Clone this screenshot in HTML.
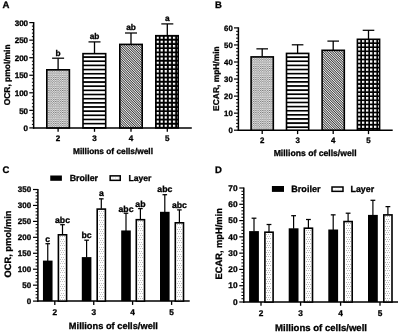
<!DOCTYPE html>
<html><head><meta charset="utf-8"><title>Figure</title>
<style>
html,body{margin:0;padding:0;background:#fff;}
body{width:400px;height:334px;overflow:hidden;}
svg{display:block;}
svg{will-change:transform;}
svg text{font-family:"Liberation Sans", sans-serif;font-weight:bold;fill:#000;stroke:#000;stroke-width:0.3px;text-rendering:geometricPrecision;}
</style></head><body>
<svg width="400" height="334" viewBox="0 0 400 334">
<rect width="400" height="334" fill="#fff"/>
<defs>
<pattern id="pfine" width="2.3" height="2.2" patternUnits="userSpaceOnUse">
 <rect width="2.3" height="2.2" fill="#e5e5e5"/>
 <rect x="0" y="0" width="1.2" height="0.6" fill="#505050"/>
 <rect x="1.15" y="1.1" width="1.2" height="0.6" fill="#505050"/>
</pattern>
<pattern id="pdiag" width="1.7" height="1.7" patternUnits="userSpaceOnUse" patternTransform="rotate(45)">
 <rect width="1.7" height="1.7" fill="#f4f4f4"/>
 <rect x="0" y="0" width="1.7" height="0.76" fill="#202020"/>
</pattern>
<pattern id="pgridA" width="4.1" height="4.2" patternUnits="userSpaceOnUse" patternTransform="translate(156.45 36.5)">
 <rect width="4.1" height="4.2" fill="#000"/>
 <rect x="0" y="0" width="2.3" height="2.3" fill="#fff"/>
</pattern>
<pattern id="pgridB" width="4.02" height="4.08" patternUnits="userSpaceOnUse" patternTransform="translate(357.95 39.95)">
 <rect width="4.02" height="4.08" fill="#000"/>
 <rect x="0" y="0" width="2.3" height="2.3" fill="#fff"/>
</pattern>
<pattern id="player" width="2.7" height="4.6" patternUnits="userSpaceOnUse">
 <rect width="2.7" height="4.6" fill="#fff"/>
 <rect x="0.3" y="0.4" width="1.0" height="0.9" fill="#c4c4c4"/>
 <rect x="1.65" y="2.7" width="1.0" height="0.9" fill="#c4c4c4"/>
</pattern>
<pattern id="phsA" width="10" height="4.16" patternUnits="userSpaceOnUse" patternTransform="translate(0 52.07)">
 <rect width="10" height="4.16" fill="#fff"/>
 <rect x="0" y="0" width="10" height="1.7" fill="#000"/>
</pattern>
<pattern id="phsB" width="10" height="4.12" patternUnits="userSpaceOnUse" patternTransform="translate(0 52.19)">
 <rect width="10" height="4.12" fill="#fff"/>
 <rect x="0" y="0" width="10" height="1.7" fill="#000"/>
</pattern>
</defs>
<text x="2.40" y="8.10" font-size="9.6" text-anchor="start">A</text>
<line x1="33.65" y1="22.00" x2="33.65" y2="128.60" stroke="#000" stroke-width="1.5"/>
<line x1="31.90" y1="124.39" x2="33.65" y2="124.39" stroke="#000" stroke-width="1.0"/>
<line x1="31.90" y1="120.88" x2="33.65" y2="120.88" stroke="#000" stroke-width="1.0"/>
<line x1="31.90" y1="117.37" x2="33.65" y2="117.37" stroke="#000" stroke-width="1.0"/>
<line x1="31.90" y1="113.86" x2="33.65" y2="113.86" stroke="#000" stroke-width="1.0"/>
<line x1="31.90" y1="106.84" x2="33.65" y2="106.84" stroke="#000" stroke-width="1.0"/>
<line x1="31.90" y1="103.33" x2="33.65" y2="103.33" stroke="#000" stroke-width="1.0"/>
<line x1="31.90" y1="99.82" x2="33.65" y2="99.82" stroke="#000" stroke-width="1.0"/>
<line x1="31.90" y1="96.31" x2="33.65" y2="96.31" stroke="#000" stroke-width="1.0"/>
<line x1="31.90" y1="89.29" x2="33.65" y2="89.29" stroke="#000" stroke-width="1.0"/>
<line x1="31.90" y1="85.78" x2="33.65" y2="85.78" stroke="#000" stroke-width="1.0"/>
<line x1="31.90" y1="82.27" x2="33.65" y2="82.27" stroke="#000" stroke-width="1.0"/>
<line x1="31.90" y1="78.76" x2="33.65" y2="78.76" stroke="#000" stroke-width="1.0"/>
<line x1="31.90" y1="71.74" x2="33.65" y2="71.74" stroke="#000" stroke-width="1.0"/>
<line x1="31.90" y1="68.23" x2="33.65" y2="68.23" stroke="#000" stroke-width="1.0"/>
<line x1="31.90" y1="64.72" x2="33.65" y2="64.72" stroke="#000" stroke-width="1.0"/>
<line x1="31.90" y1="61.21" x2="33.65" y2="61.21" stroke="#000" stroke-width="1.0"/>
<line x1="31.90" y1="54.19" x2="33.65" y2="54.19" stroke="#000" stroke-width="1.0"/>
<line x1="31.90" y1="50.68" x2="33.65" y2="50.68" stroke="#000" stroke-width="1.0"/>
<line x1="31.90" y1="47.17" x2="33.65" y2="47.17" stroke="#000" stroke-width="1.0"/>
<line x1="31.90" y1="43.66" x2="33.65" y2="43.66" stroke="#000" stroke-width="1.0"/>
<line x1="31.90" y1="36.64" x2="33.65" y2="36.64" stroke="#000" stroke-width="1.0"/>
<line x1="31.90" y1="33.13" x2="33.65" y2="33.13" stroke="#000" stroke-width="1.0"/>
<line x1="31.90" y1="29.62" x2="33.65" y2="29.62" stroke="#000" stroke-width="1.0"/>
<line x1="31.90" y1="26.11" x2="33.65" y2="26.11" stroke="#000" stroke-width="1.0"/>
<line x1="29.30" y1="127.90" x2="33.65" y2="127.90" stroke="#000" stroke-width="1.2"/>
<text x="28.10" y="131.13" font-size="8.05" text-anchor="end">0</text>
<line x1="29.30" y1="110.35" x2="33.65" y2="110.35" stroke="#000" stroke-width="1.2"/>
<text x="28.10" y="113.58" font-size="8.05" text-anchor="end">50</text>
<line x1="29.30" y1="92.80" x2="33.65" y2="92.80" stroke="#000" stroke-width="1.2"/>
<text x="28.10" y="96.03" font-size="8.05" text-anchor="end">100</text>
<line x1="29.30" y1="75.25" x2="33.65" y2="75.25" stroke="#000" stroke-width="1.2"/>
<text x="28.10" y="78.48" font-size="8.05" text-anchor="end">150</text>
<line x1="29.30" y1="57.70" x2="33.65" y2="57.70" stroke="#000" stroke-width="1.2"/>
<text x="28.10" y="60.93" font-size="8.05" text-anchor="end">200</text>
<line x1="29.30" y1="40.15" x2="33.65" y2="40.15" stroke="#000" stroke-width="1.2"/>
<text x="28.10" y="43.38" font-size="8.05" text-anchor="end">250</text>
<line x1="29.30" y1="22.60" x2="33.65" y2="22.60" stroke="#000" stroke-width="1.2"/>
<text x="28.10" y="25.83" font-size="8.05" text-anchor="end">300</text>
<line x1="32.90" y1="127.90" x2="191.80" y2="127.90" stroke="#000" stroke-width="1.5"/>
<line x1="58.10" y1="58.20" x2="58.10" y2="69.50" stroke="#000" stroke-width="1.3"/>
<line x1="52.10" y1="58.20" x2="64.10" y2="58.20" stroke="#000" stroke-width="1.25"/>
<rect x="46.80" y="69.80" width="22.60" height="58.10" fill="url(#pfine)" stroke="#000" stroke-width="1.6"/>
<text x="58.10" y="55.60" font-size="8.3" text-anchor="middle">b</text>
<line x1="58.10" y1="127.90" x2="58.10" y2="131.80" stroke="#000" stroke-width="1.3"/>
<text x="58.10" y="141.00" font-size="8.05" text-anchor="middle">2</text>
<line x1="94.50" y1="41.90" x2="94.50" y2="53.35" stroke="#000" stroke-width="1.3"/>
<line x1="88.50" y1="41.90" x2="100.50" y2="41.90" stroke="#000" stroke-width="1.25"/>
<rect x="83.00" y="53.65" width="22.70" height="74.25" fill="url(#phsA)" stroke="#000" stroke-width="1.6"/>
<text x="94.50" y="39.15" font-size="8.3" text-anchor="middle">ab</text>
<line x1="94.50" y1="127.90" x2="94.50" y2="131.80" stroke="#000" stroke-width="1.3"/>
<text x="94.50" y="141.00" font-size="8.05" text-anchor="middle">3</text>
<line x1="131.00" y1="33.00" x2="131.00" y2="44.10" stroke="#000" stroke-width="1.3"/>
<line x1="125.00" y1="33.00" x2="137.00" y2="33.00" stroke="#000" stroke-width="1.25"/>
<rect x="119.80" y="44.40" width="22.40" height="83.50" fill="url(#pdiag)" stroke="#000" stroke-width="1.6"/>
<text x="131.00" y="29.55" font-size="8.3" text-anchor="middle">ab</text>
<line x1="131.00" y1="127.90" x2="131.00" y2="131.80" stroke="#000" stroke-width="1.3"/>
<text x="131.00" y="141.00" font-size="8.05" text-anchor="middle">4</text>
<line x1="167.30" y1="23.90" x2="167.30" y2="35.40" stroke="#000" stroke-width="1.3"/>
<line x1="161.30" y1="23.90" x2="173.30" y2="23.90" stroke="#000" stroke-width="1.25"/>
<rect x="155.80" y="35.70" width="22.40" height="92.20" fill="url(#pgridA)" stroke="#000" stroke-width="1.6"/>
<text x="167.30" y="21.15" font-size="8.3" text-anchor="middle">a</text>
<line x1="167.30" y1="127.90" x2="167.30" y2="131.80" stroke="#000" stroke-width="1.3"/>
<text x="167.30" y="141.00" font-size="8.05" text-anchor="middle">5</text>
<text x="113.00" y="154.30" font-size="8.32" text-anchor="middle">Millions of cells/well</text>
<text x="10.20" y="74.85" font-size="8.45" text-anchor="middle" transform="rotate(-90 10.20 74.85)">OCR, pmol/min</text>
<text x="214.90" y="8.00" font-size="9.5" text-anchor="start">B</text>
<line x1="238.40" y1="27.30" x2="238.40" y2="130.90" stroke="#000" stroke-width="1.5"/>
<line x1="236.10" y1="126.79" x2="238.40" y2="126.79" stroke="#000" stroke-width="1.0"/>
<line x1="236.10" y1="123.38" x2="238.40" y2="123.38" stroke="#000" stroke-width="1.0"/>
<line x1="236.10" y1="119.97" x2="238.40" y2="119.97" stroke="#000" stroke-width="1.0"/>
<line x1="236.10" y1="116.56" x2="238.40" y2="116.56" stroke="#000" stroke-width="1.0"/>
<line x1="236.10" y1="109.74" x2="238.40" y2="109.74" stroke="#000" stroke-width="1.0"/>
<line x1="236.10" y1="106.33" x2="238.40" y2="106.33" stroke="#000" stroke-width="1.0"/>
<line x1="236.10" y1="102.92" x2="238.40" y2="102.92" stroke="#000" stroke-width="1.0"/>
<line x1="236.10" y1="99.51" x2="238.40" y2="99.51" stroke="#000" stroke-width="1.0"/>
<line x1="236.10" y1="92.69" x2="238.40" y2="92.69" stroke="#000" stroke-width="1.0"/>
<line x1="236.10" y1="89.28" x2="238.40" y2="89.28" stroke="#000" stroke-width="1.0"/>
<line x1="236.10" y1="85.87" x2="238.40" y2="85.87" stroke="#000" stroke-width="1.0"/>
<line x1="236.10" y1="82.46" x2="238.40" y2="82.46" stroke="#000" stroke-width="1.0"/>
<line x1="236.10" y1="75.64" x2="238.40" y2="75.64" stroke="#000" stroke-width="1.0"/>
<line x1="236.10" y1="72.23" x2="238.40" y2="72.23" stroke="#000" stroke-width="1.0"/>
<line x1="236.10" y1="68.82" x2="238.40" y2="68.82" stroke="#000" stroke-width="1.0"/>
<line x1="236.10" y1="65.41" x2="238.40" y2="65.41" stroke="#000" stroke-width="1.0"/>
<line x1="236.10" y1="58.59" x2="238.40" y2="58.59" stroke="#000" stroke-width="1.0"/>
<line x1="236.10" y1="55.18" x2="238.40" y2="55.18" stroke="#000" stroke-width="1.0"/>
<line x1="236.10" y1="51.77" x2="238.40" y2="51.77" stroke="#000" stroke-width="1.0"/>
<line x1="236.10" y1="48.36" x2="238.40" y2="48.36" stroke="#000" stroke-width="1.0"/>
<line x1="236.10" y1="41.54" x2="238.40" y2="41.54" stroke="#000" stroke-width="1.0"/>
<line x1="236.10" y1="38.13" x2="238.40" y2="38.13" stroke="#000" stroke-width="1.0"/>
<line x1="236.10" y1="34.72" x2="238.40" y2="34.72" stroke="#000" stroke-width="1.0"/>
<line x1="236.10" y1="31.31" x2="238.40" y2="31.31" stroke="#000" stroke-width="1.0"/>
<line x1="234.00" y1="130.20" x2="238.40" y2="130.20" stroke="#000" stroke-width="1.2"/>
<text x="232.80" y="133.09" font-size="7.8" text-anchor="end">0</text>
<line x1="234.00" y1="113.15" x2="238.40" y2="113.15" stroke="#000" stroke-width="1.2"/>
<text x="232.80" y="116.04" font-size="7.8" text-anchor="end">10</text>
<line x1="234.00" y1="96.10" x2="238.40" y2="96.10" stroke="#000" stroke-width="1.2"/>
<text x="232.80" y="98.99" font-size="7.8" text-anchor="end">20</text>
<line x1="234.00" y1="79.05" x2="238.40" y2="79.05" stroke="#000" stroke-width="1.2"/>
<text x="232.80" y="81.94" font-size="7.8" text-anchor="end">30</text>
<line x1="234.00" y1="62.00" x2="238.40" y2="62.00" stroke="#000" stroke-width="1.2"/>
<text x="232.80" y="64.89" font-size="7.8" text-anchor="end">40</text>
<line x1="234.00" y1="44.95" x2="238.40" y2="44.95" stroke="#000" stroke-width="1.2"/>
<text x="232.80" y="47.84" font-size="7.8" text-anchor="end">50</text>
<line x1="234.00" y1="27.90" x2="238.40" y2="27.90" stroke="#000" stroke-width="1.2"/>
<text x="232.80" y="30.79" font-size="7.8" text-anchor="end">60</text>
<line x1="237.65" y1="130.20" x2="392.70" y2="130.20" stroke="#000" stroke-width="1.5"/>
<line x1="262.20" y1="48.85" x2="262.20" y2="56.60" stroke="#000" stroke-width="1.3"/>
<line x1="256.40" y1="48.85" x2="268.00" y2="48.85" stroke="#000" stroke-width="1.25"/>
<rect x="251.10" y="56.90" width="22.20" height="73.30" fill="url(#pfine)" stroke="#000" stroke-width="1.6"/>
<line x1="262.20" y1="130.20" x2="262.20" y2="134.10" stroke="#000" stroke-width="1.3"/>
<text x="262.20" y="142.90" font-size="7.9" text-anchor="middle">2</text>
<line x1="297.60" y1="44.80" x2="297.60" y2="53.10" stroke="#000" stroke-width="1.3"/>
<line x1="291.80" y1="44.80" x2="303.40" y2="44.80" stroke="#000" stroke-width="1.25"/>
<rect x="286.50" y="53.40" width="22.20" height="76.80" fill="url(#phsB)" stroke="#000" stroke-width="1.6"/>
<line x1="297.60" y1="130.20" x2="297.60" y2="134.10" stroke="#000" stroke-width="1.3"/>
<text x="297.60" y="142.90" font-size="7.9" text-anchor="middle">3</text>
<line x1="333.20" y1="41.10" x2="333.20" y2="50.00" stroke="#000" stroke-width="1.3"/>
<line x1="327.40" y1="41.10" x2="339.00" y2="41.10" stroke="#000" stroke-width="1.25"/>
<rect x="322.10" y="50.30" width="22.20" height="79.90" fill="url(#pdiag)" stroke="#000" stroke-width="1.6"/>
<line x1="333.20" y1="130.20" x2="333.20" y2="134.10" stroke="#000" stroke-width="1.3"/>
<text x="333.20" y="142.90" font-size="7.9" text-anchor="middle">4</text>
<line x1="368.50" y1="30.30" x2="368.50" y2="39.00" stroke="#000" stroke-width="1.3"/>
<line x1="362.70" y1="30.30" x2="374.30" y2="30.30" stroke="#000" stroke-width="1.25"/>
<rect x="357.40" y="39.30" width="22.20" height="90.90" fill="url(#pgridB)" stroke="#000" stroke-width="1.6"/>
<line x1="368.50" y1="130.20" x2="368.50" y2="134.10" stroke="#000" stroke-width="1.3"/>
<text x="368.50" y="142.90" font-size="7.9" text-anchor="middle">5</text>
<text x="315.10" y="156.10" font-size="8.65" text-anchor="middle">Millions of cells/well</text>
<text x="218.60" y="78.60" font-size="8.43" text-anchor="middle" transform="rotate(-90 218.60 78.60)">ECAR, mpH/min</text>
<text x="2.60" y="173.00" font-size="9.5" text-anchor="start">C</text>
<line x1="37.90" y1="188.90" x2="37.90" y2="301.80" stroke="#000" stroke-width="1.5"/>
<line x1="35.60" y1="297.91" x2="37.90" y2="297.91" stroke="#000" stroke-width="1.0"/>
<line x1="35.60" y1="294.72" x2="37.90" y2="294.72" stroke="#000" stroke-width="1.0"/>
<line x1="35.60" y1="291.53" x2="37.90" y2="291.53" stroke="#000" stroke-width="1.0"/>
<line x1="35.60" y1="288.35" x2="37.90" y2="288.35" stroke="#000" stroke-width="1.0"/>
<line x1="35.60" y1="281.97" x2="37.90" y2="281.97" stroke="#000" stroke-width="1.0"/>
<line x1="35.60" y1="278.78" x2="37.90" y2="278.78" stroke="#000" stroke-width="1.0"/>
<line x1="35.60" y1="275.59" x2="37.90" y2="275.59" stroke="#000" stroke-width="1.0"/>
<line x1="35.60" y1="272.40" x2="37.90" y2="272.40" stroke="#000" stroke-width="1.0"/>
<line x1="35.60" y1="266.03" x2="37.90" y2="266.03" stroke="#000" stroke-width="1.0"/>
<line x1="35.60" y1="262.84" x2="37.90" y2="262.84" stroke="#000" stroke-width="1.0"/>
<line x1="35.60" y1="259.65" x2="37.90" y2="259.65" stroke="#000" stroke-width="1.0"/>
<line x1="35.60" y1="256.46" x2="37.90" y2="256.46" stroke="#000" stroke-width="1.0"/>
<line x1="35.60" y1="250.08" x2="37.90" y2="250.08" stroke="#000" stroke-width="1.0"/>
<line x1="35.60" y1="246.89" x2="37.90" y2="246.89" stroke="#000" stroke-width="1.0"/>
<line x1="35.60" y1="243.71" x2="37.90" y2="243.71" stroke="#000" stroke-width="1.0"/>
<line x1="35.60" y1="240.52" x2="37.90" y2="240.52" stroke="#000" stroke-width="1.0"/>
<line x1="35.60" y1="234.14" x2="37.90" y2="234.14" stroke="#000" stroke-width="1.0"/>
<line x1="35.60" y1="230.95" x2="37.90" y2="230.95" stroke="#000" stroke-width="1.0"/>
<line x1="35.60" y1="227.76" x2="37.90" y2="227.76" stroke="#000" stroke-width="1.0"/>
<line x1="35.60" y1="224.57" x2="37.90" y2="224.57" stroke="#000" stroke-width="1.0"/>
<line x1="35.60" y1="218.20" x2="37.90" y2="218.20" stroke="#000" stroke-width="1.0"/>
<line x1="35.60" y1="215.01" x2="37.90" y2="215.01" stroke="#000" stroke-width="1.0"/>
<line x1="35.60" y1="211.82" x2="37.90" y2="211.82" stroke="#000" stroke-width="1.0"/>
<line x1="35.60" y1="208.63" x2="37.90" y2="208.63" stroke="#000" stroke-width="1.0"/>
<line x1="35.60" y1="202.25" x2="37.90" y2="202.25" stroke="#000" stroke-width="1.0"/>
<line x1="35.60" y1="199.07" x2="37.90" y2="199.07" stroke="#000" stroke-width="1.0"/>
<line x1="35.60" y1="195.88" x2="37.90" y2="195.88" stroke="#000" stroke-width="1.0"/>
<line x1="35.60" y1="192.69" x2="37.90" y2="192.69" stroke="#000" stroke-width="1.0"/>
<line x1="33.00" y1="301.10" x2="37.90" y2="301.10" stroke="#000" stroke-width="1.2"/>
<text x="31.20" y="304.06" font-size="8.0" text-anchor="end">0</text>
<line x1="33.00" y1="285.16" x2="37.90" y2="285.16" stroke="#000" stroke-width="1.2"/>
<text x="31.20" y="288.12" font-size="8.0" text-anchor="end">50</text>
<line x1="33.00" y1="269.21" x2="37.90" y2="269.21" stroke="#000" stroke-width="1.2"/>
<text x="31.20" y="272.18" font-size="8.0" text-anchor="end">100</text>
<line x1="33.00" y1="253.27" x2="37.90" y2="253.27" stroke="#000" stroke-width="1.2"/>
<text x="31.20" y="256.24" font-size="8.0" text-anchor="end">150</text>
<line x1="33.00" y1="237.33" x2="37.90" y2="237.33" stroke="#000" stroke-width="1.2"/>
<text x="31.20" y="240.29" font-size="8.0" text-anchor="end">200</text>
<line x1="33.00" y1="221.39" x2="37.90" y2="221.39" stroke="#000" stroke-width="1.2"/>
<text x="31.20" y="224.35" font-size="8.0" text-anchor="end">250</text>
<line x1="33.00" y1="205.44" x2="37.90" y2="205.44" stroke="#000" stroke-width="1.2"/>
<text x="31.20" y="208.41" font-size="8.0" text-anchor="end">300</text>
<line x1="33.00" y1="189.50" x2="37.90" y2="189.50" stroke="#000" stroke-width="1.2"/>
<text x="31.20" y="192.46" font-size="8.0" text-anchor="end">350</text>
<line x1="37.15" y1="301.10" x2="189.70" y2="301.10" stroke="#000" stroke-width="1.5"/>
<line x1="47.75" y1="243.70" x2="47.75" y2="261.10" stroke="#000" stroke-width="1.2"/>
<line x1="45.45" y1="243.70" x2="50.05" y2="243.70" stroke="#000" stroke-width="1.25"/>
<rect x="42.95" y="260.60" width="9.60" height="40.50" fill="#000"/>
<text x="47.75" y="241.50" font-size="8.7" text-anchor="middle">c</text>
<line x1="62.50" y1="224.70" x2="62.50" y2="234.50" stroke="#000" stroke-width="1.2"/>
<line x1="60.20" y1="224.70" x2="64.80" y2="224.70" stroke="#000" stroke-width="1.25"/>
<rect x="58.40" y="234.80" width="8.20" height="66.30" fill="#fff" stroke="#000" stroke-width="1.6"/>
<path d="M60 236h1v1h-1zM62 236h1v1h-1zM64 236h1v1h-1zM61 239h1v1h-1zM63 239h1v1h-1zM60 241h1v1h-1zM62 241h1v1h-1zM64 241h1v1h-1zM61 243h1v1h-1zM63 243h1v1h-1zM60 245h1v1h-1zM62 245h1v1h-1zM64 245h1v1h-1zM61 248h1v1h-1zM63 248h1v1h-1zM60 250h1v1h-1zM62 250h1v1h-1zM64 250h1v1h-1zM61 252h1v1h-1zM63 252h1v1h-1zM60 254h1v1h-1zM62 254h1v1h-1zM64 254h1v1h-1zM61 257h1v1h-1zM63 257h1v1h-1zM60 259h1v1h-1zM62 259h1v1h-1zM64 259h1v1h-1zM61 261h1v1h-1zM63 261h1v1h-1zM60 263h1v1h-1zM62 263h1v1h-1zM64 263h1v1h-1zM61 266h1v1h-1zM63 266h1v1h-1zM60 268h1v1h-1zM62 268h1v1h-1zM64 268h1v1h-1zM61 270h1v1h-1zM63 270h1v1h-1zM60 272h1v1h-1zM62 272h1v1h-1zM64 272h1v1h-1zM61 275h1v1h-1zM63 275h1v1h-1zM60 277h1v1h-1zM62 277h1v1h-1zM64 277h1v1h-1zM61 279h1v1h-1zM63 279h1v1h-1zM60 281h1v1h-1zM62 281h1v1h-1zM64 281h1v1h-1zM61 284h1v1h-1zM63 284h1v1h-1zM60 286h1v1h-1zM62 286h1v1h-1zM64 286h1v1h-1zM61 288h1v1h-1zM63 288h1v1h-1zM60 290h1v1h-1zM62 290h1v1h-1zM64 290h1v1h-1zM61 293h1v1h-1zM63 293h1v1h-1zM60 295h1v1h-1zM62 295h1v1h-1zM64 295h1v1h-1zM61 297h1v1h-1zM63 297h1v1h-1zM60 299h1v1h-1zM62 299h1v1h-1zM64 299h1v1h-1z" fill="#c0c0c0"/>
<text x="62.50" y="222.80" font-size="8.7" text-anchor="middle">abc</text>
<line x1="54.80" y1="301.10" x2="54.80" y2="304.90" stroke="#000" stroke-width="1.3"/>
<text x="54.80" y="314.80" font-size="8.3" text-anchor="middle">2</text>
<line x1="86.60" y1="240.20" x2="86.60" y2="257.60" stroke="#000" stroke-width="1.2"/>
<line x1="84.30" y1="240.20" x2="88.90" y2="240.20" stroke="#000" stroke-width="1.25"/>
<rect x="81.80" y="257.10" width="9.60" height="44.00" fill="#000"/>
<text x="86.60" y="237.80" font-size="8.7" text-anchor="middle">bc</text>
<line x1="101.30" y1="198.85" x2="101.30" y2="208.80" stroke="#000" stroke-width="1.2"/>
<line x1="99.00" y1="198.85" x2="103.60" y2="198.85" stroke="#000" stroke-width="1.25"/>
<rect x="97.20" y="209.10" width="8.20" height="92.00" fill="#fff" stroke="#000" stroke-width="1.6"/>
<path d="M99 211h1v1h-1zM101 211h1v1h-1zM103 211h1v1h-1zM100 213h1v1h-1zM102 213h1v1h-1zM99 215h1v1h-1zM101 215h1v1h-1zM103 215h1v1h-1zM100 217h1v1h-1zM102 217h1v1h-1zM99 220h1v1h-1zM101 220h1v1h-1zM103 220h1v1h-1zM100 222h1v1h-1zM102 222h1v1h-1zM99 224h1v1h-1zM101 224h1v1h-1zM103 224h1v1h-1zM100 226h1v1h-1zM102 226h1v1h-1zM99 229h1v1h-1zM101 229h1v1h-1zM103 229h1v1h-1zM100 231h1v1h-1zM102 231h1v1h-1zM99 233h1v1h-1zM101 233h1v1h-1zM103 233h1v1h-1zM100 235h1v1h-1zM102 235h1v1h-1zM99 238h1v1h-1zM101 238h1v1h-1zM103 238h1v1h-1zM100 240h1v1h-1zM102 240h1v1h-1zM99 242h1v1h-1zM101 242h1v1h-1zM103 242h1v1h-1zM100 244h1v1h-1zM102 244h1v1h-1zM99 247h1v1h-1zM101 247h1v1h-1zM103 247h1v1h-1zM100 249h1v1h-1zM102 249h1v1h-1zM99 251h1v1h-1zM101 251h1v1h-1zM103 251h1v1h-1zM100 253h1v1h-1zM102 253h1v1h-1zM99 256h1v1h-1zM101 256h1v1h-1zM103 256h1v1h-1zM100 258h1v1h-1zM102 258h1v1h-1zM99 260h1v1h-1zM101 260h1v1h-1zM103 260h1v1h-1zM100 262h1v1h-1zM102 262h1v1h-1zM99 265h1v1h-1zM101 265h1v1h-1zM103 265h1v1h-1zM100 267h1v1h-1zM102 267h1v1h-1zM99 269h1v1h-1zM101 269h1v1h-1zM103 269h1v1h-1zM100 271h1v1h-1zM102 271h1v1h-1zM99 274h1v1h-1zM101 274h1v1h-1zM103 274h1v1h-1zM100 276h1v1h-1zM102 276h1v1h-1zM99 278h1v1h-1zM101 278h1v1h-1zM103 278h1v1h-1zM100 280h1v1h-1zM102 280h1v1h-1zM99 283h1v1h-1zM101 283h1v1h-1zM103 283h1v1h-1zM100 285h1v1h-1zM102 285h1v1h-1zM99 287h1v1h-1zM101 287h1v1h-1zM103 287h1v1h-1zM100 289h1v1h-1zM102 289h1v1h-1zM99 292h1v1h-1zM101 292h1v1h-1zM103 292h1v1h-1zM100 294h1v1h-1zM102 294h1v1h-1zM99 296h1v1h-1zM101 296h1v1h-1zM103 296h1v1h-1zM100 298h1v1h-1zM102 298h1v1h-1z" fill="#c0c0c0"/>
<text x="101.30" y="196.25" font-size="8.7" text-anchor="middle">a</text>
<line x1="93.75" y1="301.10" x2="93.75" y2="304.90" stroke="#000" stroke-width="1.3"/>
<text x="93.75" y="314.80" font-size="8.3" text-anchor="middle">3</text>
<line x1="126.00" y1="213.25" x2="126.00" y2="230.95" stroke="#000" stroke-width="1.2"/>
<line x1="123.70" y1="213.25" x2="128.30" y2="213.25" stroke="#000" stroke-width="1.25"/>
<rect x="121.20" y="230.45" width="9.60" height="70.65" fill="#000"/>
<text x="126.00" y="211.85" font-size="8.7" text-anchor="middle">abc</text>
<line x1="140.40" y1="208.60" x2="140.40" y2="219.40" stroke="#000" stroke-width="1.2"/>
<line x1="138.10" y1="208.60" x2="142.70" y2="208.60" stroke="#000" stroke-width="1.25"/>
<rect x="136.30" y="219.70" width="8.20" height="81.40" fill="#fff" stroke="#000" stroke-width="1.6"/>
<path d="M138 221h1v1h-1zM140 221h1v1h-1zM142 221h1v1h-1zM139 224h1v1h-1zM141 224h1v1h-1zM138 226h1v1h-1zM140 226h1v1h-1zM142 226h1v1h-1zM139 228h1v1h-1zM141 228h1v1h-1zM138 230h1v1h-1zM140 230h1v1h-1zM142 230h1v1h-1zM139 233h1v1h-1zM141 233h1v1h-1zM138 235h1v1h-1zM140 235h1v1h-1zM142 235h1v1h-1zM139 237h1v1h-1zM141 237h1v1h-1zM138 239h1v1h-1zM140 239h1v1h-1zM142 239h1v1h-1zM139 242h1v1h-1zM141 242h1v1h-1zM138 244h1v1h-1zM140 244h1v1h-1zM142 244h1v1h-1zM139 246h1v1h-1zM141 246h1v1h-1zM138 248h1v1h-1zM140 248h1v1h-1zM142 248h1v1h-1zM139 251h1v1h-1zM141 251h1v1h-1zM138 253h1v1h-1zM140 253h1v1h-1zM142 253h1v1h-1zM139 255h1v1h-1zM141 255h1v1h-1zM138 257h1v1h-1zM140 257h1v1h-1zM142 257h1v1h-1zM139 260h1v1h-1zM141 260h1v1h-1zM138 262h1v1h-1zM140 262h1v1h-1zM142 262h1v1h-1zM139 264h1v1h-1zM141 264h1v1h-1zM138 266h1v1h-1zM140 266h1v1h-1zM142 266h1v1h-1zM139 269h1v1h-1zM141 269h1v1h-1zM138 271h1v1h-1zM140 271h1v1h-1zM142 271h1v1h-1zM139 273h1v1h-1zM141 273h1v1h-1zM138 275h1v1h-1zM140 275h1v1h-1zM142 275h1v1h-1zM139 278h1v1h-1zM141 278h1v1h-1zM138 280h1v1h-1zM140 280h1v1h-1zM142 280h1v1h-1zM139 282h1v1h-1zM141 282h1v1h-1zM138 284h1v1h-1zM140 284h1v1h-1zM142 284h1v1h-1zM139 287h1v1h-1zM141 287h1v1h-1zM138 289h1v1h-1zM140 289h1v1h-1zM142 289h1v1h-1zM139 291h1v1h-1zM141 291h1v1h-1zM138 293h1v1h-1zM140 293h1v1h-1zM142 293h1v1h-1zM139 296h1v1h-1zM141 296h1v1h-1zM138 298h1v1h-1zM140 298h1v1h-1zM142 298h1v1h-1z" fill="#c0c0c0"/>
<text x="140.40" y="206.50" font-size="8.7" text-anchor="middle">ab</text>
<line x1="132.60" y1="301.10" x2="132.60" y2="304.90" stroke="#000" stroke-width="1.3"/>
<text x="132.60" y="314.80" font-size="8.3" text-anchor="middle">4</text>
<line x1="164.80" y1="194.70" x2="164.80" y2="212.30" stroke="#000" stroke-width="1.2"/>
<line x1="162.50" y1="194.70" x2="167.10" y2="194.70" stroke="#000" stroke-width="1.25"/>
<rect x="160.00" y="211.80" width="9.60" height="89.30" fill="#000"/>
<text x="164.80" y="192.20" font-size="8.7" text-anchor="middle">abc</text>
<line x1="179.40" y1="209.90" x2="179.40" y2="222.50" stroke="#000" stroke-width="1.2"/>
<line x1="177.10" y1="209.90" x2="181.70" y2="209.90" stroke="#000" stroke-width="1.25"/>
<rect x="175.30" y="222.80" width="8.20" height="78.30" fill="#fff" stroke="#000" stroke-width="1.6"/>
<path d="M177 224h1v1h-1zM179 224h1v1h-1zM181 224h1v1h-1zM178 227h1v1h-1zM180 227h1v1h-1zM177 229h1v1h-1zM179 229h1v1h-1zM181 229h1v1h-1zM178 231h1v1h-1zM180 231h1v1h-1zM177 233h1v1h-1zM179 233h1v1h-1zM181 233h1v1h-1zM178 236h1v1h-1zM180 236h1v1h-1zM177 238h1v1h-1zM179 238h1v1h-1zM181 238h1v1h-1zM178 240h1v1h-1zM180 240h1v1h-1zM177 242h1v1h-1zM179 242h1v1h-1zM181 242h1v1h-1zM178 245h1v1h-1zM180 245h1v1h-1zM177 247h1v1h-1zM179 247h1v1h-1zM181 247h1v1h-1zM178 249h1v1h-1zM180 249h1v1h-1zM177 251h1v1h-1zM179 251h1v1h-1zM181 251h1v1h-1zM178 254h1v1h-1zM180 254h1v1h-1zM177 256h1v1h-1zM179 256h1v1h-1zM181 256h1v1h-1zM178 258h1v1h-1zM180 258h1v1h-1zM177 260h1v1h-1zM179 260h1v1h-1zM181 260h1v1h-1zM178 263h1v1h-1zM180 263h1v1h-1zM177 265h1v1h-1zM179 265h1v1h-1zM181 265h1v1h-1zM178 267h1v1h-1zM180 267h1v1h-1zM177 269h1v1h-1zM179 269h1v1h-1zM181 269h1v1h-1zM178 272h1v1h-1zM180 272h1v1h-1zM177 274h1v1h-1zM179 274h1v1h-1zM181 274h1v1h-1zM178 276h1v1h-1zM180 276h1v1h-1zM177 278h1v1h-1zM179 278h1v1h-1zM181 278h1v1h-1zM178 281h1v1h-1zM180 281h1v1h-1zM177 283h1v1h-1zM179 283h1v1h-1zM181 283h1v1h-1zM178 285h1v1h-1zM180 285h1v1h-1zM177 287h1v1h-1zM179 287h1v1h-1zM181 287h1v1h-1zM178 290h1v1h-1zM180 290h1v1h-1zM177 292h1v1h-1zM179 292h1v1h-1zM181 292h1v1h-1zM178 294h1v1h-1zM180 294h1v1h-1zM177 296h1v1h-1zM179 296h1v1h-1zM181 296h1v1h-1zM178 299h1v1h-1zM180 299h1v1h-1z" fill="#c0c0c0"/>
<text x="179.40" y="207.50" font-size="8.7" text-anchor="middle">abc</text>
<line x1="171.60" y1="301.10" x2="171.60" y2="304.90" stroke="#000" stroke-width="1.3"/>
<text x="171.60" y="314.80" font-size="8.3" text-anchor="middle">5</text>
<text x="113.40" y="329.30" font-size="9.28" text-anchor="middle">Millions of cells/well</text>
<text x="11.40" y="244.00" font-size="9.25" text-anchor="middle" transform="rotate(-90 11.40 244.00)">OCR, pmol/min</text>
<rect x="50.25" y="175.50" width="11.65" height="5.30" fill="#000"/>
<text x="69.70" y="180.90" font-size="8.8" text-anchor="start">Broiler</text>
<rect x="110.15" y="175.85" width="10.10" height="4.50" fill="url(#player)" stroke="#000" stroke-width="1.5"/>
<text x="128.50" y="180.90" font-size="8.6" text-anchor="start">Layer</text>
<text x="215.10" y="173.30" font-size="9.5" text-anchor="start">D</text>
<line x1="243.80" y1="187.40" x2="243.80" y2="302.70" stroke="#000" stroke-width="1.5"/>
<line x1="241.40" y1="298.74" x2="243.80" y2="298.74" stroke="#000" stroke-width="1.0"/>
<line x1="241.40" y1="295.49" x2="243.80" y2="295.49" stroke="#000" stroke-width="1.0"/>
<line x1="241.40" y1="292.23" x2="243.80" y2="292.23" stroke="#000" stroke-width="1.0"/>
<line x1="241.40" y1="288.97" x2="243.80" y2="288.97" stroke="#000" stroke-width="1.0"/>
<line x1="241.40" y1="282.46" x2="243.80" y2="282.46" stroke="#000" stroke-width="1.0"/>
<line x1="241.40" y1="279.20" x2="243.80" y2="279.20" stroke="#000" stroke-width="1.0"/>
<line x1="241.40" y1="275.94" x2="243.80" y2="275.94" stroke="#000" stroke-width="1.0"/>
<line x1="241.40" y1="272.69" x2="243.80" y2="272.69" stroke="#000" stroke-width="1.0"/>
<line x1="241.40" y1="266.17" x2="243.80" y2="266.17" stroke="#000" stroke-width="1.0"/>
<line x1="241.40" y1="262.91" x2="243.80" y2="262.91" stroke="#000" stroke-width="1.0"/>
<line x1="241.40" y1="259.66" x2="243.80" y2="259.66" stroke="#000" stroke-width="1.0"/>
<line x1="241.40" y1="256.40" x2="243.80" y2="256.40" stroke="#000" stroke-width="1.0"/>
<line x1="241.40" y1="249.89" x2="243.80" y2="249.89" stroke="#000" stroke-width="1.0"/>
<line x1="241.40" y1="246.63" x2="243.80" y2="246.63" stroke="#000" stroke-width="1.0"/>
<line x1="241.40" y1="243.37" x2="243.80" y2="243.37" stroke="#000" stroke-width="1.0"/>
<line x1="241.40" y1="240.11" x2="243.80" y2="240.11" stroke="#000" stroke-width="1.0"/>
<line x1="241.40" y1="233.60" x2="243.80" y2="233.60" stroke="#000" stroke-width="1.0"/>
<line x1="241.40" y1="230.34" x2="243.80" y2="230.34" stroke="#000" stroke-width="1.0"/>
<line x1="241.40" y1="227.09" x2="243.80" y2="227.09" stroke="#000" stroke-width="1.0"/>
<line x1="241.40" y1="223.83" x2="243.80" y2="223.83" stroke="#000" stroke-width="1.0"/>
<line x1="241.40" y1="217.31" x2="243.80" y2="217.31" stroke="#000" stroke-width="1.0"/>
<line x1="241.40" y1="214.06" x2="243.80" y2="214.06" stroke="#000" stroke-width="1.0"/>
<line x1="241.40" y1="210.80" x2="243.80" y2="210.80" stroke="#000" stroke-width="1.0"/>
<line x1="241.40" y1="207.54" x2="243.80" y2="207.54" stroke="#000" stroke-width="1.0"/>
<line x1="241.40" y1="201.03" x2="243.80" y2="201.03" stroke="#000" stroke-width="1.0"/>
<line x1="241.40" y1="197.77" x2="243.80" y2="197.77" stroke="#000" stroke-width="1.0"/>
<line x1="241.40" y1="194.51" x2="243.80" y2="194.51" stroke="#000" stroke-width="1.0"/>
<line x1="241.40" y1="191.26" x2="243.80" y2="191.26" stroke="#000" stroke-width="1.0"/>
<line x1="239.25" y1="302.00" x2="243.80" y2="302.00" stroke="#000" stroke-width="1.2"/>
<text x="237.50" y="304.77" font-size="8.3" text-anchor="end">0</text>
<line x1="239.25" y1="285.71" x2="243.80" y2="285.71" stroke="#000" stroke-width="1.2"/>
<text x="237.50" y="288.49" font-size="8.3" text-anchor="end">10</text>
<line x1="239.25" y1="269.43" x2="243.80" y2="269.43" stroke="#000" stroke-width="1.2"/>
<text x="237.50" y="272.20" font-size="8.3" text-anchor="end">20</text>
<line x1="239.25" y1="253.14" x2="243.80" y2="253.14" stroke="#000" stroke-width="1.2"/>
<text x="237.50" y="255.91" font-size="8.3" text-anchor="end">30</text>
<line x1="239.25" y1="236.86" x2="243.80" y2="236.86" stroke="#000" stroke-width="1.2"/>
<text x="237.50" y="239.63" font-size="8.3" text-anchor="end">40</text>
<line x1="239.25" y1="220.57" x2="243.80" y2="220.57" stroke="#000" stroke-width="1.2"/>
<text x="237.50" y="223.34" font-size="8.3" text-anchor="end">50</text>
<line x1="239.25" y1="204.29" x2="243.80" y2="204.29" stroke="#000" stroke-width="1.2"/>
<text x="237.50" y="207.06" font-size="8.3" text-anchor="end">60</text>
<line x1="239.25" y1="188.00" x2="243.80" y2="188.00" stroke="#000" stroke-width="1.2"/>
<text x="237.50" y="190.77" font-size="8.3" text-anchor="end">70</text>
<line x1="243.05" y1="302.00" x2="398.00" y2="302.00" stroke="#000" stroke-width="1.5"/>
<line x1="254.00" y1="218.20" x2="254.00" y2="231.60" stroke="#000" stroke-width="1.2"/>
<line x1="251.60" y1="218.20" x2="256.40" y2="218.20" stroke="#000" stroke-width="1.25"/>
<rect x="249.10" y="231.10" width="9.80" height="70.90" fill="#000"/>
<line x1="269.00" y1="224.50" x2="269.00" y2="231.90" stroke="#000" stroke-width="1.2"/>
<line x1="266.60" y1="224.50" x2="271.40" y2="224.50" stroke="#000" stroke-width="1.25"/>
<rect x="264.90" y="232.20" width="8.20" height="69.80" fill="#fff" stroke="#000" stroke-width="1.6"/>
<path d="M266 234h1v1h-1zM268 234h1v1h-1zM270 234h1v1h-1zM267 236h1v1h-1zM269 236h1v1h-1zM266 238h1v1h-1zM268 238h1v1h-1zM270 238h1v1h-1zM267 241h1v1h-1zM269 241h1v1h-1zM266 243h1v1h-1zM268 243h1v1h-1zM270 243h1v1h-1zM267 245h1v1h-1zM269 245h1v1h-1zM266 247h1v1h-1zM268 247h1v1h-1zM270 247h1v1h-1zM267 250h1v1h-1zM269 250h1v1h-1zM266 252h1v1h-1zM268 252h1v1h-1zM270 252h1v1h-1zM267 254h1v1h-1zM269 254h1v1h-1zM266 256h1v1h-1zM268 256h1v1h-1zM270 256h1v1h-1zM267 259h1v1h-1zM269 259h1v1h-1zM266 261h1v1h-1zM268 261h1v1h-1zM270 261h1v1h-1zM267 263h1v1h-1zM269 263h1v1h-1zM266 265h1v1h-1zM268 265h1v1h-1zM270 265h1v1h-1zM267 268h1v1h-1zM269 268h1v1h-1zM266 270h1v1h-1zM268 270h1v1h-1zM270 270h1v1h-1zM267 272h1v1h-1zM269 272h1v1h-1zM266 274h1v1h-1zM268 274h1v1h-1zM270 274h1v1h-1zM267 277h1v1h-1zM269 277h1v1h-1zM266 279h1v1h-1zM268 279h1v1h-1zM270 279h1v1h-1zM267 281h1v1h-1zM269 281h1v1h-1zM266 283h1v1h-1zM268 283h1v1h-1zM270 283h1v1h-1zM267 286h1v1h-1zM269 286h1v1h-1zM266 288h1v1h-1zM268 288h1v1h-1zM270 288h1v1h-1zM267 290h1v1h-1zM269 290h1v1h-1zM266 292h1v1h-1zM268 292h1v1h-1zM270 292h1v1h-1zM267 295h1v1h-1zM269 295h1v1h-1zM266 297h1v1h-1zM268 297h1v1h-1zM270 297h1v1h-1zM267 299h1v1h-1zM269 299h1v1h-1z" fill="#b8b8b8"/>
<line x1="261.00" y1="302.00" x2="261.00" y2="305.80" stroke="#000" stroke-width="1.3"/>
<text x="261.00" y="315.70" font-size="8.3" text-anchor="middle">2</text>
<line x1="293.60" y1="215.70" x2="293.60" y2="228.80" stroke="#000" stroke-width="1.2"/>
<line x1="291.20" y1="215.70" x2="296.00" y2="215.70" stroke="#000" stroke-width="1.25"/>
<rect x="288.70" y="228.30" width="9.80" height="73.70" fill="#000"/>
<line x1="308.40" y1="219.50" x2="308.40" y2="227.90" stroke="#000" stroke-width="1.2"/>
<line x1="306.00" y1="219.50" x2="310.80" y2="219.50" stroke="#000" stroke-width="1.25"/>
<rect x="304.30" y="228.20" width="8.20" height="73.80" fill="#fff" stroke="#000" stroke-width="1.6"/>
<path d="M306 230h1v1h-1zM308 230h1v1h-1zM310 230h1v1h-1zM307 232h1v1h-1zM309 232h1v1h-1zM306 234h1v1h-1zM308 234h1v1h-1zM310 234h1v1h-1zM307 237h1v1h-1zM309 237h1v1h-1zM306 239h1v1h-1zM308 239h1v1h-1zM310 239h1v1h-1zM307 241h1v1h-1zM309 241h1v1h-1zM306 243h1v1h-1zM308 243h1v1h-1zM310 243h1v1h-1zM307 246h1v1h-1zM309 246h1v1h-1zM306 248h1v1h-1zM308 248h1v1h-1zM310 248h1v1h-1zM307 250h1v1h-1zM309 250h1v1h-1zM306 252h1v1h-1zM308 252h1v1h-1zM310 252h1v1h-1zM307 255h1v1h-1zM309 255h1v1h-1zM306 257h1v1h-1zM308 257h1v1h-1zM310 257h1v1h-1zM307 259h1v1h-1zM309 259h1v1h-1zM306 261h1v1h-1zM308 261h1v1h-1zM310 261h1v1h-1zM307 264h1v1h-1zM309 264h1v1h-1zM306 266h1v1h-1zM308 266h1v1h-1zM310 266h1v1h-1zM307 268h1v1h-1zM309 268h1v1h-1zM306 270h1v1h-1zM308 270h1v1h-1zM310 270h1v1h-1zM307 273h1v1h-1zM309 273h1v1h-1zM306 275h1v1h-1zM308 275h1v1h-1zM310 275h1v1h-1zM307 277h1v1h-1zM309 277h1v1h-1zM306 279h1v1h-1zM308 279h1v1h-1zM310 279h1v1h-1zM307 282h1v1h-1zM309 282h1v1h-1zM306 284h1v1h-1zM308 284h1v1h-1zM310 284h1v1h-1zM307 286h1v1h-1zM309 286h1v1h-1zM306 288h1v1h-1zM308 288h1v1h-1zM310 288h1v1h-1zM307 291h1v1h-1zM309 291h1v1h-1zM306 293h1v1h-1zM308 293h1v1h-1zM310 293h1v1h-1zM307 295h1v1h-1zM309 295h1v1h-1zM306 297h1v1h-1zM308 297h1v1h-1zM310 297h1v1h-1zM307 300h1v1h-1zM309 300h1v1h-1z" fill="#b8b8b8"/>
<line x1="300.60" y1="302.00" x2="300.60" y2="305.80" stroke="#000" stroke-width="1.3"/>
<text x="300.60" y="315.70" font-size="8.3" text-anchor="middle">3</text>
<line x1="333.20" y1="214.85" x2="333.20" y2="230.00" stroke="#000" stroke-width="1.2"/>
<line x1="330.80" y1="214.85" x2="335.60" y2="214.85" stroke="#000" stroke-width="1.25"/>
<rect x="328.30" y="229.50" width="9.80" height="72.50" fill="#000"/>
<line x1="348.10" y1="213.20" x2="348.10" y2="221.25" stroke="#000" stroke-width="1.2"/>
<line x1="345.70" y1="213.20" x2="350.50" y2="213.20" stroke="#000" stroke-width="1.25"/>
<rect x="344.00" y="221.55" width="8.20" height="80.45" fill="#fff" stroke="#000" stroke-width="1.6"/>
<path d="M346 223h1v1h-1zM348 223h1v1h-1zM350 223h1v1h-1zM347 225h1v1h-1zM349 225h1v1h-1zM346 228h1v1h-1zM348 228h1v1h-1zM350 228h1v1h-1zM347 230h1v1h-1zM349 230h1v1h-1zM346 232h1v1h-1zM348 232h1v1h-1zM350 232h1v1h-1zM347 234h1v1h-1zM349 234h1v1h-1zM346 237h1v1h-1zM348 237h1v1h-1zM350 237h1v1h-1zM347 239h1v1h-1zM349 239h1v1h-1zM346 241h1v1h-1zM348 241h1v1h-1zM350 241h1v1h-1zM347 243h1v1h-1zM349 243h1v1h-1zM346 246h1v1h-1zM348 246h1v1h-1zM350 246h1v1h-1zM347 248h1v1h-1zM349 248h1v1h-1zM346 250h1v1h-1zM348 250h1v1h-1zM350 250h1v1h-1zM347 252h1v1h-1zM349 252h1v1h-1zM346 255h1v1h-1zM348 255h1v1h-1zM350 255h1v1h-1zM347 257h1v1h-1zM349 257h1v1h-1zM346 259h1v1h-1zM348 259h1v1h-1zM350 259h1v1h-1zM347 261h1v1h-1zM349 261h1v1h-1zM346 264h1v1h-1zM348 264h1v1h-1zM350 264h1v1h-1zM347 266h1v1h-1zM349 266h1v1h-1zM346 268h1v1h-1zM348 268h1v1h-1zM350 268h1v1h-1zM347 270h1v1h-1zM349 270h1v1h-1zM346 273h1v1h-1zM348 273h1v1h-1zM350 273h1v1h-1zM347 275h1v1h-1zM349 275h1v1h-1zM346 277h1v1h-1zM348 277h1v1h-1zM350 277h1v1h-1zM347 279h1v1h-1zM349 279h1v1h-1zM346 282h1v1h-1zM348 282h1v1h-1zM350 282h1v1h-1zM347 284h1v1h-1zM349 284h1v1h-1zM346 286h1v1h-1zM348 286h1v1h-1zM350 286h1v1h-1zM347 288h1v1h-1zM349 288h1v1h-1zM346 291h1v1h-1zM348 291h1v1h-1zM350 291h1v1h-1zM347 293h1v1h-1zM349 293h1v1h-1zM346 295h1v1h-1zM348 295h1v1h-1zM350 295h1v1h-1zM347 297h1v1h-1zM349 297h1v1h-1zM346 300h1v1h-1zM348 300h1v1h-1zM350 300h1v1h-1z" fill="#b8b8b8"/>
<line x1="340.60" y1="302.00" x2="340.60" y2="305.80" stroke="#000" stroke-width="1.3"/>
<text x="340.60" y="315.70" font-size="8.3" text-anchor="middle">4</text>
<line x1="372.90" y1="200.30" x2="372.90" y2="215.40" stroke="#000" stroke-width="1.2"/>
<line x1="370.50" y1="200.30" x2="375.30" y2="200.30" stroke="#000" stroke-width="1.25"/>
<rect x="368.00" y="214.90" width="9.80" height="87.10" fill="#000"/>
<line x1="387.90" y1="206.60" x2="387.90" y2="214.60" stroke="#000" stroke-width="1.2"/>
<line x1="385.50" y1="206.60" x2="390.30" y2="206.60" stroke="#000" stroke-width="1.25"/>
<rect x="383.80" y="214.90" width="8.20" height="87.10" fill="#fff" stroke="#000" stroke-width="1.6"/>
<path d="M385 216h1v1h-1zM387 216h1v1h-1zM389 216h1v1h-1zM386 219h1v1h-1zM388 219h1v1h-1zM385 221h1v1h-1zM387 221h1v1h-1zM389 221h1v1h-1zM386 223h1v1h-1zM388 223h1v1h-1zM385 226h1v1h-1zM387 226h1v1h-1zM389 226h1v1h-1zM386 228h1v1h-1zM388 228h1v1h-1zM385 230h1v1h-1zM387 230h1v1h-1zM389 230h1v1h-1zM386 232h1v1h-1zM388 232h1v1h-1zM385 234h1v1h-1zM387 234h1v1h-1zM389 234h1v1h-1zM386 237h1v1h-1zM388 237h1v1h-1zM385 239h1v1h-1zM387 239h1v1h-1zM389 239h1v1h-1zM386 241h1v1h-1zM388 241h1v1h-1zM385 244h1v1h-1zM387 244h1v1h-1zM389 244h1v1h-1zM386 246h1v1h-1zM388 246h1v1h-1zM385 248h1v1h-1zM387 248h1v1h-1zM389 248h1v1h-1zM386 250h1v1h-1zM388 250h1v1h-1zM385 252h1v1h-1zM387 252h1v1h-1zM389 252h1v1h-1zM386 255h1v1h-1zM388 255h1v1h-1zM385 257h1v1h-1zM387 257h1v1h-1zM389 257h1v1h-1zM386 259h1v1h-1zM388 259h1v1h-1zM385 262h1v1h-1zM387 262h1v1h-1zM389 262h1v1h-1zM386 264h1v1h-1zM388 264h1v1h-1zM385 266h1v1h-1zM387 266h1v1h-1zM389 266h1v1h-1zM386 268h1v1h-1zM388 268h1v1h-1zM385 270h1v1h-1zM387 270h1v1h-1zM389 270h1v1h-1zM386 273h1v1h-1zM388 273h1v1h-1zM385 275h1v1h-1zM387 275h1v1h-1zM389 275h1v1h-1zM386 277h1v1h-1zM388 277h1v1h-1zM385 280h1v1h-1zM387 280h1v1h-1zM389 280h1v1h-1zM386 282h1v1h-1zM388 282h1v1h-1zM385 284h1v1h-1zM387 284h1v1h-1zM389 284h1v1h-1zM386 286h1v1h-1zM388 286h1v1h-1zM385 288h1v1h-1zM387 288h1v1h-1zM389 288h1v1h-1zM386 291h1v1h-1zM388 291h1v1h-1zM385 293h1v1h-1zM387 293h1v1h-1zM389 293h1v1h-1zM386 295h1v1h-1zM388 295h1v1h-1zM385 298h1v1h-1zM387 298h1v1h-1zM389 298h1v1h-1zM386 300h1v1h-1zM388 300h1v1h-1z" fill="#b8b8b8"/>
<line x1="380.00" y1="302.00" x2="380.00" y2="305.80" stroke="#000" stroke-width="1.3"/>
<text x="380.00" y="315.70" font-size="8.3" text-anchor="middle">5</text>
<text x="321.00" y="330.70" font-size="9.57" text-anchor="middle">Millions of cells/well</text>
<text x="222.00" y="243.80" font-size="9.31" text-anchor="middle" transform="rotate(-90 222.00 243.80)">ECAR, mpH/min</text>
<rect x="271.90" y="186.00" width="12.10" height="5.90" fill="#000"/>
<text x="291.25" y="192.25" font-size="9.1" text-anchor="start">Broiler</text>
<rect x="332.00" y="187.00" width="11.00" height="4.35" fill="url(#player)" stroke="#000" stroke-width="1.5"/>
<text x="350.60" y="192.25" font-size="8.8" text-anchor="start">Layer</text>
</svg>
</body></html>
